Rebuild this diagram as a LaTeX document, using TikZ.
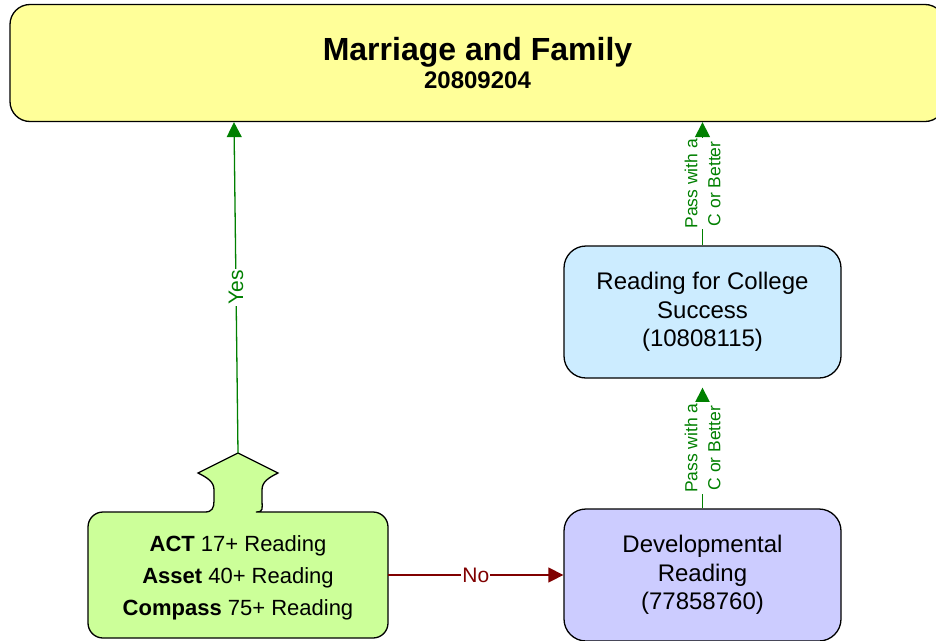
\documentclass[tikz,border=0pt]{standalone}
\usepackage{fontspec}
\setmainfont{Liberation Sans}
\usepackage{xcolor}
\usepackage{tikz}
\usetikzlibrary{arrows.meta,positioning}

\definecolor{titleyellow}{HTML}{FFFF99}
\definecolor{courseblue}{HTML}{CCECFF}
\definecolor{devpurple}{HTML}{CCCCFF}
\definecolor{entrygreen}{HTML}{CCFF99}
\definecolor{passgreen}{HTML}{008000}
\definecolor{nored}{HTML}{800000}

\begin{document}
\begin{tikzpicture}[x=1pt, y=-1pt,
    course/.style={draw, line width=1.3pt, rounded corners=22pt, align=center,
        minimum width=277pt, minimum height=132pt, inner sep=0pt,
        font=\fontsize{24}{28.5}\selectfont},
    passline/.style={passgreen, line width=1.3pt, -{Triangle[length=15pt,width=15pt]}},
    noline/.style={nored, line width=1.3pt, -{Triangle[length=15pt,width=15pt]}},
    passlabel/.style={fill=white, text=passgreen, rotate=90, align=center,
        inner sep=1pt, font=\fontsize{17.5}{23}\selectfont},
    branchlabel/.style={fill=white, inner sep=1pt, font=\fontsize{21}{21}\selectfont}]
    \useasboundingbox (0,0) rectangle (936,640);
    \clip (0,0) rectangle (936,640);

    % Target course
    \node[course, fill=titleyellow, minimum width=935pt, minimum height=117pt,
        rounded corners=20pt, font=\fontsize{24}{28}\selectfont\bfseries]
        (family) at (477.5,63) {{\fontsize{32}{32}\selectfont Marriage and Family}\\20809204};

    % Reading courses
    \node[course, fill=courseblue] (college) at (702.5,312) {Reading for College\\Success\\(10808115)};
    \node[course, fill=devpurple] (devread) at (702.5,575) {Developmental\\Reading\\(77858760)};

    % Placement box with arrow tab
    \draw[line width=1.3pt, fill=entrygreen]
        (207,512) [rounded corners=15pt] -- (88,512) -- (88,638) -- (388,638) -- (388,512)
        -- (271,512) [sharp corners]
        .. controls (264,512) and (262,508) .. (262,501) -- (262,490)
        .. controls (262,482) and (268,478) .. (278,473) -- (238,453) -- (198,473)
        .. controls (208,478) and (214,482) .. (214,490) -- (214,501)
        .. controls (214,508) and (212,512) .. (205,512) -- cycle;
    \node[align=center, font=\fontsize{22}{32}\selectfont, minimum width=300pt, minimum height=126pt]
        (entry) at (238,578) {\textbf{ACT} 17+ Reading\\\textbf{Asset} 40+ Reading\\\textbf{Compass} 75+ Reading};
    \coordinate (tabtip) at (238,453);

    % Branches
    \draw[passline] (tabtip) -- ([xshift=-4pt]tabtip |- family.south)
        node[midway, branchlabel, text=passgreen, rotate=90] (yes) {Yes};
    \draw[noline] ([yshift=3pt]entry.east) -- (devread.west)
        node[midway, branchlabel, text=nored] (no) {No};

    % Pass requirements
    \draw[passline] (devread.north) -- ([yshift=-9pt]college.south)
        node[midway, passlabel] (passlow) {Pass with a\\C or Better};
    \draw[passline] (college.north) -- (college.north |- family.south)
        node[midway, passlabel] (passhigh) {Pass with a\\C or Better};
\end{tikzpicture}
\end{document}
